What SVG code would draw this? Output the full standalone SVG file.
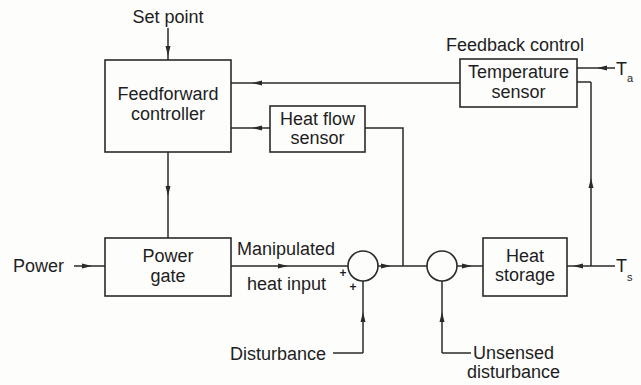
<svg xmlns="http://www.w3.org/2000/svg" width="641" height="385" viewBox="0 0 641 385">
<defs>
<marker id="ah" viewBox="0 0 10 6" refX="10" refY="3" markerWidth="10" markerHeight="6" markerUnits="userSpaceOnUse" orient="auto">
<path d="M0,0.5 L10,3 L0,5.5 Z" fill="#2a2a2a"/>
</marker>
</defs>
<style>
.box{fill:none;stroke:#2a2a2a;stroke-width:1.6}
.ln{fill:none;stroke:#2a2a2a;stroke-width:1.5}
.arr{fill:none;stroke:#2a2a2a;stroke-width:1.5;marker-mid:url(#ah)}
text{font-family:"Liberation Sans",Arial,sans-serif;font-size:18px;fill:#1e1e1e}
.c{text-anchor:middle}
.sub{font-size:11px}
.pm{font-size:12px;font-weight:bold}
</style>
<rect width="641" height="385" fill="#fdfdfc"/>
<g id="connectors">
<path class="arr" d="M168 28 L168 56 L168 60"/>
<path class="arr" d="M168 152 L168 196 L168 238"/>
<path class="arr" d="M460 83 L252 83 L231 83"/>
<path class="arr" d="M270 128 L252 128 L231 128"/>
<path class="ln" d="M403 266 L403 128 L365 128"/>
<path class="arr" d="M591 266 L591 178 L591 82"/>
<path class="ln" d="M591 82 L577 82"/>
<path class="arr" d="M615 68 L597 68 L577 68"/>
<path class="arr" d="M74 266 L92 266 L105 266"/>
<path class="arr" d="M231 266 L288 266 L348 266"/>
<path class="ln" d="M333 353 L363 353"/>
<path class="arr" d="M363 353 L363 312 L363 281"/>
<path class="arr" d="M378 266 L391 266 L427 266"/>
<path class="arr" d="M457 266 L472 266 L483 266"/>
<path class="arr" d="M615 266 L573 266 L567 266"/>
<path class="ln" d="M471 353 L442 353"/>
<path class="arr" d="M442 353 L442 312 L442 281"/>
</g>
<g id="setpoint"><text class="c" x="168" y="23">Set point</text></g>
<g id="feedforward">
<rect class="box" x="105" y="60" width="126" height="92"/>
<text class="c" x="168" y="100">Feedforward</text>
<text class="c" x="168" y="120">controller</text>
</g>
<g id="heatflow">
<rect class="box" x="270" y="106" width="95" height="46"/>
<text class="c" x="317.5" y="125">Heat flow</text>
<text class="c" x="317.5" y="144">sensor</text>
</g>
<g id="tempsensor">
<text class="c" x="515" y="51">Feedback control</text>
<rect class="box" x="460" y="59" width="117" height="48"/>
<text class="c" x="518.5" y="78">Temperature</text>
<text class="c" x="518.5" y="98">sensor</text>
</g>
<g id="ta"><text x="616" y="75">T</text><text class="sub" x="627" y="82">a</text></g>
<g id="power"><text x="13" y="272">Power</text></g>
<g id="powergate">
<rect class="box" x="105" y="238" width="126" height="58"/>
<text class="c" x="168" y="262">Power</text>
<text class="c" x="168" y="282">gate</text>
</g>
<g id="manip">
<text x="237" y="255">Manipulated</text>
<text x="247" y="290">heat input</text>
</g>
<g id="sum1">
<circle class="box" cx="363" cy="266" r="15"/>
<text class="pm c" x="343" y="277">+</text>
<text class="pm c" x="353" y="291">+</text>
</g>
<g id="disturbance"><text x="230" y="360">Disturbance</text></g>
<g id="sum2"><circle class="box" cx="442" cy="266" r="15"/></g>
<g id="heatstorage">
<rect class="box" x="483" y="238" width="84" height="58"/>
<text class="c" x="525" y="262">Heat</text>
<text class="c" x="525" y="281">storage</text>
</g>
<g id="ts"><text x="616" y="272">T</text><text class="sub" x="627" y="281">s</text></g>
<g id="unsensed">
<text x="473" y="359">Unsensed</text>
<text x="467" y="378">disturbance</text>
</g>
</svg>
